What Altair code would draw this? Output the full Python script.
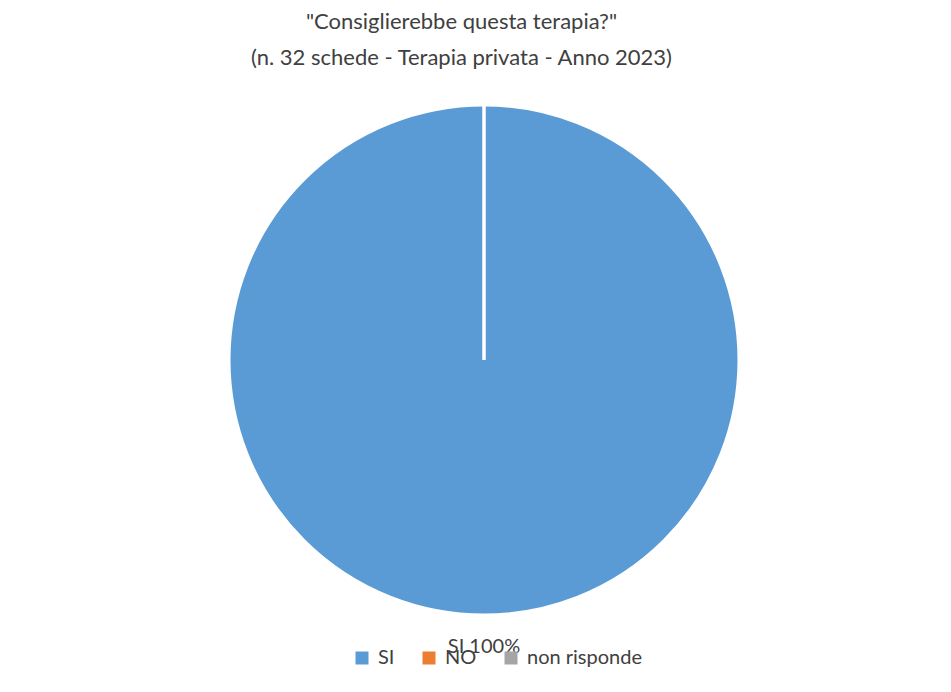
import altair as alt
import pandas as pd

CATEGORIES = ["SI", "NO", "non risponde"]
COUNTS = [32, 0, 0]
COLORS = ["#5B9BD5", "#ED7D31", "#A5A5A5"]
TITLE_LINES = ['"Consiglierebbe questa terapia?"',
               "(n. 32 schede  - Terapia privata - Anno 2023)"]

total = sum(COUNTS)
df = pd.DataFrame({
    "categoria": CATEGORIES,
    "schede": COUNTS,
    "ordine": list(range(len(CATEGORIES))),
})
df["etichetta"] = [f"{c} {round(100 * v / total)}%" for c, v in zip(CATEGORIES, COUNTS)]

FONT = "Lato"
TXT = "#404040"
CX, CY = 476, 277
R = 255

base = alt.Chart(df)

pie = base.mark_arc(outerRadius=R, stroke="white", strokeWidth=3).encode(
    theta=alt.Theta("schede:Q", stack=True),
    color=alt.Color(
        "categoria:N",
        scale=alt.Scale(domain=CATEGORIES, range=COLORS),
        legend=alt.Legend(
            title=None, orient="none", direction="horizontal",
            legendX=344, legendY=565,
            symbolType="square", symbolSize=169, symbolStrokeWidth=0,
            labelFont=FONT, labelFontSize=20, labelColor=TXT,
            labelOffset=6, columnPadding=24,
        ),
    ),
    order=alt.Order("ordine:Q"),
    x=alt.value(CX),
    y=alt.value(CY),
)

labels = base.transform_filter("datum.schede > 0").mark_text(
    radius=287, font=FONT, fontSize=20, color=TXT
).encode(
    theta=alt.Theta("schede:Q", stack=True),
    text="etichetta:N",
    x=alt.value(CX),
    y=alt.value(CY),
)

chart = alt.layer(pie, labels).properties(
    width=935,
    height=601,
    autosize=alt.AutoSizeParams(type="none"),
    padding={"left": 0, "top": 75, "right": 0, "bottom": 0},
    title=alt.TitleParams(
        TITLE_LINES, anchor="middle", font=FONT, fontSize=22,
        fontWeight="normal", color=TXT, lineHeight=36, offset=13, dx=-14,
    ),
).configure_view(stroke=None)

chart.save("out.html", embed_options={"renderer": "svg", "actions": False})
